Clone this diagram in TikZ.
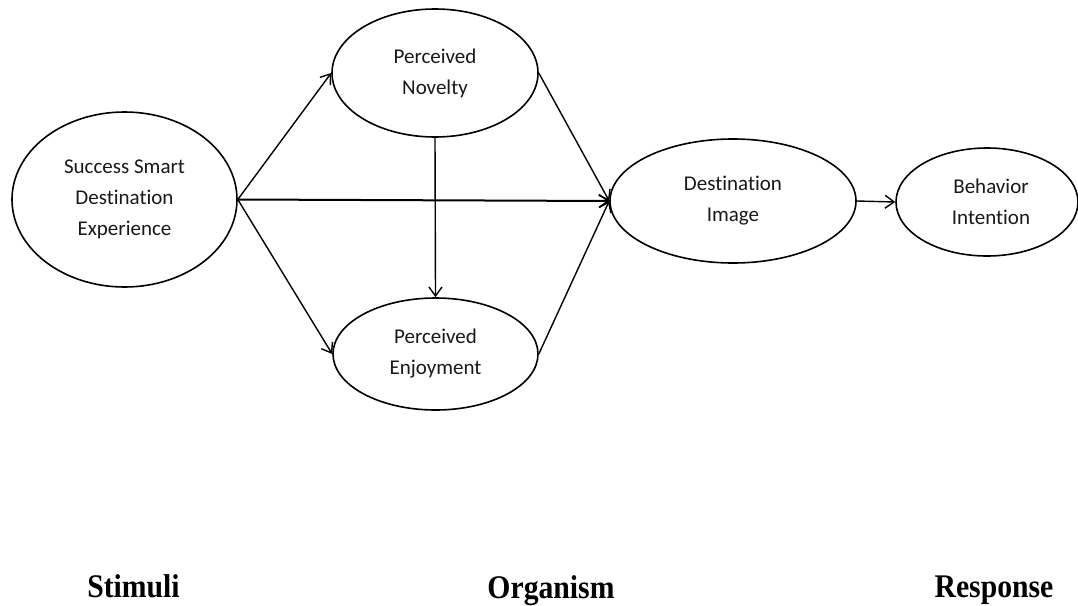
\documentclass[tikz,border=0pt]{standalone}
\usepackage{fontspec}
\usepackage{graphicx}
\setmainfont{Carlito}[Ligatures=NoCommon]
\newfontfamily\labelfont{Liberation Serif}
\usetikzlibrary{shapes.geometric,arrows.meta}

\tikzset{
  construct/.style={ellipse, draw=black, line width=1.6pt, inner sep=0pt,
    align=center, text=black!90, font=\fontsize{21}{31}\selectfont},
  arr/.style={line width=1.4pt, -{Straight Barb[length=9pt,width=13pt,line width=1.4pt]}},
  stage/.style={anchor=base, font=\labelfont\bfseries\fontsize{33}{36}\selectfont}
}

\begin{document}
\begin{tikzpicture}[x=1pt,y=-1pt]
  \fill[white] (0,0) rectangle (1078,605);
  \useasboundingbox (0,0) rectangle (1078,605);

  % constructs of the S-O-R model
  \node[construct, minimum width=225pt, minimum height=175pt] (ssde) at (124.5,199.5)
    {Success Smart\\Destination\\Experience};
  \node[construct, minimum width=206pt, minimum height=128pt] (pn) at (435,73)
    {Perceived\\Novelty};
  \node[construct, minimum width=205pt, minimum height=112pt] (pe) at (435.5,354)
    {Perceived\\Enjoyment};
  \node[construct, minimum width=246pt, minimum height=124pt] (di) at (733,201)
    {Destination\\Image};
  \node[construct, minimum width=182pt, minimum height=108pt] (bi) at (987,202)
    {\hspace*{8pt}Behavior\\\hspace*{8pt}Intention};

  % paths
  \draw[arr] (ssde.east) -- (pn.west);
  \draw[arr] (ssde.east) -- (pe.west);
  \draw[arr, line width=2pt] (ssde.east) -- (di.west);
  \draw[arr] (pn.south) -- (pe.north);
  \draw[arr] (pn.east) -- (di.west);
  \draw[arr] (pe.east) -- (di.west);
  \draw[arr] (di.east) -- (bi.west);

  % stage labels
  \node[stage] (stim) at (133.5,597) {\scalebox{0.9}[1]{Stimuli}};
  \node[stage] (org) at (551,598) {\scalebox{0.9}[1]{Organism}};
  \node[stage] (resp) at (994,597) {\scalebox{0.9}[1]{Response}};
\end{tikzpicture}
\end{document}
